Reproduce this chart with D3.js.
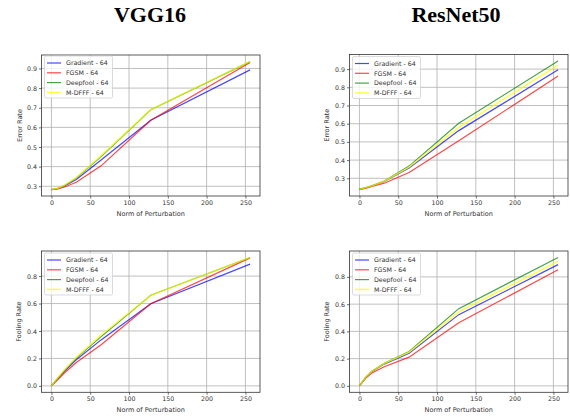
<!DOCTYPE html>
<html><head><meta charset="utf-8">
<script src="https://cdn.jsdelivr.net/npm/d3@7"></script>
<style>body{margin:0;background:#fff;} svg{display:block;font-family:"DejaVu Sans",sans-serif;}</style>
</head><body>
<script>
const perturbation = [0, 8, 16, 32, 64, 128, 256];
const seriesNames = ["Gradient - 64", "FGSM - 64", "Deepfool - 64", "M-DFFF - 64"];
const seriesColors = ["#0000ff", "#ff0000", "#008000", "#ffff00"];

const vggError = {
  "Gradient - 64": [0.283, 0.288, 0.300, 0.334, 0.434, 0.636, 0.893],
  "FGSM - 64":     [0.283, 0.286, 0.295, 0.320, 0.404, 0.636, 0.930],
  "Deepfool - 64": [0.283, 0.290, 0.303, 0.342, 0.451, 0.690, 0.935],
  "M-DFFF - 64":   [0.283, 0.290, 0.304, 0.344, 0.456, 0.690, 0.936]
};
const resnetError = {
  "Gradient - 64": [0.240, 0.247, 0.258, 0.282, 0.357, 0.562, 0.896],
  "FGSM - 64":     [0.238, 0.245, 0.255, 0.273, 0.332, 0.506, 0.862],
  "Deepfool - 64": [0.240, 0.248, 0.259, 0.285, 0.367, 0.602, 0.945],
  "M-DFFF - 64":   [0.240, 0.248, 0.259, 0.284, 0.361, 0.580, 0.922]
};
const vggFooling = {
  "Gradient - 64": [0.0, 0.052, 0.102, 0.190, 0.335, 0.598, 0.887],
  "FGSM - 64":     [0.0, 0.045, 0.090, 0.170, 0.300, 0.598, 0.933],
  "Deepfool - 64": [0.0, 0.055, 0.108, 0.202, 0.359, 0.660, 0.935],
  "M-DFFF - 64":   [0.0, 0.057, 0.112, 0.208, 0.371, 0.660, 0.936]
};
const resnetFooling = {
  "Gradient - 64": [0.0, 0.062, 0.106, 0.160, 0.240, 0.523, 0.890],
  "FGSM - 64":     [0.0, 0.055, 0.094, 0.140, 0.211, 0.463, 0.853],
  "Deepfool - 64": [0.0, 0.063, 0.108, 0.165, 0.252, 0.567, 0.943],
  "M-DFFF - 64":   [0.0, 0.063, 0.108, 0.164, 0.248, 0.543, 0.914]
};
const xTicks = [0, 50, 100, 150, 200, 250];
const errorTicks = [0.3, 0.4, 0.5, 0.6, 0.7, 0.8, 0.9];
const foolingTicks = [0.0, 0.2, 0.4, 0.6, 0.8];
const titles = ["VGG16", "ResNet50"];

const svg = d3.select("body").append("svg").attr("width", 570).attr("height", 417);

svg.selectAll("text.title").data(titles).join("text")
  .attr("x", (d, i) => i === 0 ? 150 : 456).attr("y", 22)
  .attr("text-anchor", "middle")
  .style("font-family", "'Liberation Serif', 'DejaVu Serif', serif")
  .style("font-weight", "bold").style("font-size", "22px").attr("fill", "#000")
  .text(d => d);

const panels = [
  {data: vggError, left: 41.5, right: 260, top: 55, bottom: 196, ylabel: "Error Rate", yticks: errorTicks, fmt: d3.format(".1f"), ylabX: 20, legendTop: 56},
  {data: resnetError, left: 349.5, right: 568, top: 54.5, bottom: 196, ylabel: "Error Rate", yticks: errorTicks, fmt: d3.format(".1f"), ylabX: 327, legendTop: 56.5},
  {data: vggFooling, left: 41.5, right: 260, top: 251, bottom: 392.3, ylabel: "Fooling Rate", yticks: foolingTicks, fmt: d3.format(".1f"), ylabX: 18.5, legendTop: 253},
  {data: resnetFooling, left: 349.5, right: 568, top: 251, bottom: 392.3, ylabel: "Fooling Rate", yticks: foolingTicks, fmt: d3.format(".1f"), ylabX: 327, legendTop: 253}
];

panels.forEach(p => {
  const g = svg.append("g");
  const xs = perturbation;
  const xr = d3.extent(xs);
  const xm = (xr[1] - xr[0]) * 0.05;
  const x = d3.scaleLinear().domain([xr[0] - xm, xr[1] + xm]).range([p.left, p.right]);
  const all = seriesNames.flatMap(n => p.data[n]);
  const yr = d3.extent(all);
  const ym = (yr[1] - yr[0]) * 0.05;
  const y = d3.scaleLinear().domain([yr[0] - ym, yr[1] + ym]).range([p.bottom, p.top]);

  g.selectAll("line.gx").data(xTicks).join("line")
    .attr("x1", d => x(d)).attr("x2", d => x(d)).attr("y1", p.top).attr("y2", p.bottom)
    .attr("stroke", "#b0b0b0").attr("stroke-width", 0.8);
  g.selectAll("line.gy").data(p.yticks).join("line")
    .attr("y1", d => y(d)).attr("y2", d => y(d)).attr("x1", p.left).attr("x2", p.right)
    .attr("stroke", "#b0b0b0").attr("stroke-width", 0.8);

  const xa = g.append("g").attr("transform", `translate(0,${p.bottom})`)
    .call(d3.axisBottom(x).tickValues(xTicks).tickSize(2.5).tickPadding(2));
  const ya = g.append("g").attr("transform", `translate(${p.left},0)`)
    .call(d3.axisLeft(y).tickValues(p.yticks).tickFormat(p.fmt).tickSize(2.5).tickPadding(2));
  [xa, ya].forEach(a => {
    a.select(".domain").remove();
    a.selectAll(".tick line").attr("stroke", "#333").attr("stroke-width", 0.7);
    a.selectAll(".tick text").attr("fill", "#333").style("font-size", "6.3px").style("font-family", "'DejaVu Sans',sans-serif");
  });

  const line = d3.line().x((d, i) => x(xs[i])).y(d => y(d));
  seriesNames.forEach((n, k) => {
    g.append("path").datum(p.data[n]).attr("d", line)
      .attr("fill", "none").attr("stroke", seriesColors[k])
      .attr("stroke-opacity", 0.72).attr("stroke-width", k === 3 ? 1.5 : 1.2);
  });

  g.append("rect").attr("x", p.left).attr("y", p.top)
    .attr("width", p.right - p.left).attr("height", p.bottom - p.top)
    .attr("fill", "none").attr("stroke", "#333").attr("stroke-width", 0.8);

  g.append("text").attr("x", (p.left + p.right) / 2).attr("y", p.bottom + 19.5)
    .attr("text-anchor", "middle").style("font-size", "6.5px").attr("fill", "#333")
    .text("Norm of Perturbation");
  g.append("text").attr("transform", `translate(${p.ylabX + 2},${(p.top + p.bottom) / 2}) rotate(-90)`)
    .attr("text-anchor", "middle").style("font-size", "6.5px").attr("fill", "#333")
    .text(p.ylabel);

  const lx = p.left + 3, ly = p.legendTop;
  g.append("rect").attr("x", lx).attr("y", ly).attr("width", 68).attr("height", 42)
    .attr("rx", 1.5).attr("fill", "#fff").attr("fill-opacity", 0.8)
    .attr("stroke", "#ccc").attr("stroke-width", 0.7);
  seriesNames.forEach((n, k) => {
    const ry = ly + 7 + k * 9.8;
    g.append("line").attr("x1", lx + 2.5).attr("x2", lx + 16.5).attr("y1", ry).attr("y2", ry)
      .attr("stroke", seriesColors[k]).attr("stroke-opacity", 0.72).attr("stroke-width", k === 3 ? 1.5 : 1.2);
    g.append("text").attr("x", lx + 21.5).attr("y", ry + 2.2)
      .style("font-size", "6.3px").attr("fill", "#333").text(n);
  });
});
</script>
</body></html>
